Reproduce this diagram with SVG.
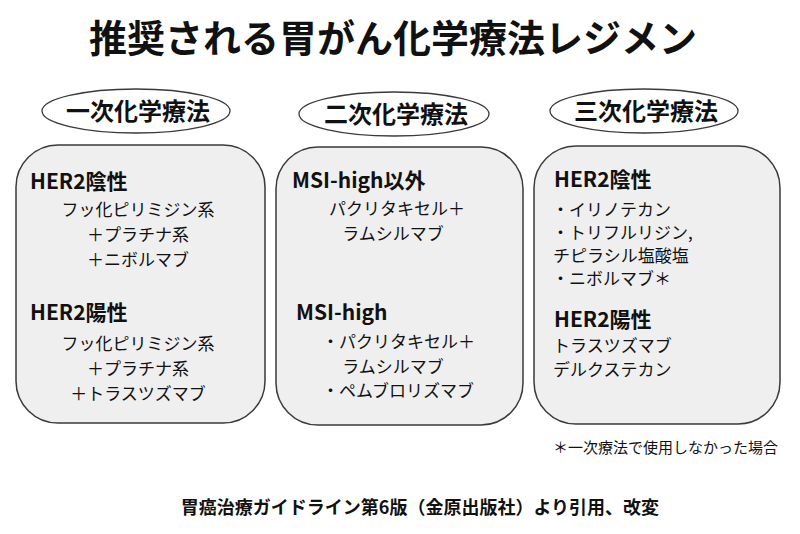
<svg xmlns="http://www.w3.org/2000/svg" width="800" height="534" viewBox="0 0 800 534">
<style>
text{font-family:"Noto Sans CJK JP","Noto Sans",sans-serif;fill:#111}
.title{font-size:38px;font-weight:700}
.head{font-size:24px;font-weight:700}
.sub{font-size:21px;font-weight:700}
.b{font-size:17px}
.note{font-size:15px}
.foot{font-size:18px;font-weight:700}
.box{fill:#efefef;stroke:#3a3a3a;stroke-width:1.5}
.ell{fill:#fff;stroke:#3a3a3a;stroke-width:1.3}
.m{text-anchor:middle}
</style>
<rect width="800" height="534" fill="#fff"/>
<text id="title" class="title m" x="393" y="52">推奨される胃がん化学療法レジメン</text>

<g id="first">
<ellipse class="ell" cx="136" cy="111" rx="94" ry="22"/>
<text class="head m" x="138" y="120">一次化学療法</text>
<rect class="box" x="16" y="145" width="249" height="278" rx="42" ry="42"/>
<text class="sub" x="30" y="189">HER2陰性</text>
<text class="b m" x="138" y="216">フッ化ピリミジン系</text>
<text class="b m" x="138" y="241">＋プラチナ系</text>
<text class="b m" x="138" y="266">＋ニボルマブ</text>
<text class="sub" x="30" y="320">HER2陽性</text>
<text class="b m" x="138" y="350">フッ化ピリミジン系</text>
<text class="b m" x="138" y="375">＋プラチナ系</text>
<text class="b m" x="138" y="400">＋トラスツズマブ</text>
</g>

<g id="second">
<ellipse class="ell" cx="394" cy="114" rx="95" ry="22"/>
<text class="head m" x="396" y="123">二次化学療法</text>
<rect class="box" x="276" y="147" width="247" height="278" rx="42" ry="42"/>
<text class="sub" x="292" y="188">MSI-high以外</text>
<text class="b m" x="397" y="215">パクリタキセル＋</text>
<text class="b m" x="393" y="240">ラムシルマブ</text>
<text class="sub" x="296" y="320">MSI-high</text>
<text class="b" x="322" y="348">・パクリタキセル＋</text>
<text class="b m" x="393" y="373">ラムシルマブ</text>
<text class="b" x="322" y="397">・ペムブロリズマブ</text>
</g>

<g id="third">
<ellipse class="ell" cx="644" cy="111" rx="94" ry="22"/>
<text class="head m" x="646" y="120">三次化学療法</text>
<rect class="box" x="534" y="146" width="246" height="278" rx="42" ry="42"/>
<text class="sub" x="554" y="187">HER2陰性</text>
<text class="b" x="552" y="216">・イリノテカン</text>
<text class="b" x="552" y="239">・トリフルリジン,</text>
<text class="b" x="553" y="262">チピラシル塩酸塩</text>
<text class="b" x="552" y="285">・ニボルマブ＊</text>
<text class="sub" x="554" y="327">HER2陽性</text>
<text class="b" x="553" y="352">トラスツズマブ</text>
<text class="b" x="553" y="376">デルクステカン</text>
</g>

<text id="note" class="note" x="778" y="453" text-anchor="end">＊一次療法で使用しなかった場合</text>
<text id="footer" class="foot m" x="420" y="514">胃癌治療ガイドライン第6版（金原出版社）より引用、改変</text>
<g id="connectors"></g>
</svg>
